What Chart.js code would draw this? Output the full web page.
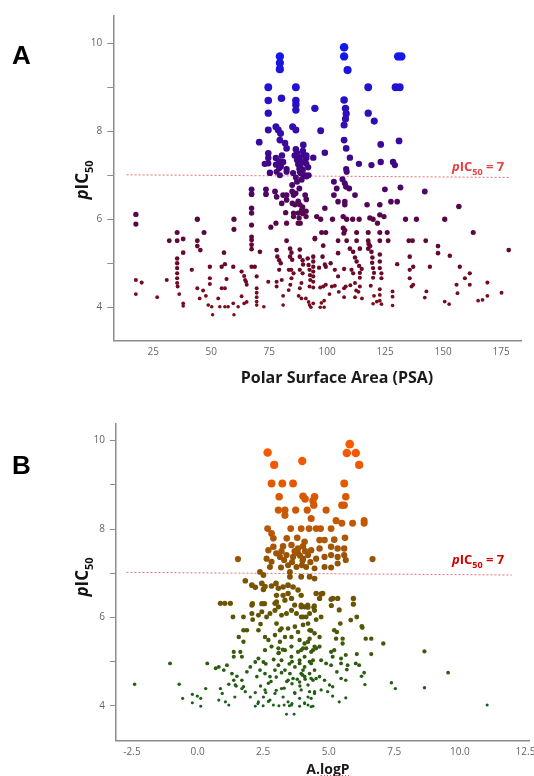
<!DOCTYPE html>
<html>
<head>
<meta charset="utf-8">
<title>pIC50 vs PSA / A.logP</title>
<script src="https://cdn.jsdelivr.net/npm/chart.js@4.4.1/dist/chart.umd.min.js"></script>
<style>
    html, body { margin: 0; padding: 0; background: #fff; }
    #wrap { position: relative; width: 534px; height: 776px; overflow: hidden; }
    #wrap canvas { position: absolute; left: 0; }
    #chartA { top: 0; }
    #chartB { top: 390px; }
</style>
</head>
<body>
<div id="wrap">
    <canvas id="chartA" width="534" height="390"></canvas>
    <canvas id="chartB" width="534" height="386"></canvas>
</div>
<script>
// ===== DATA =====
const yTicks = [4, 5, 6, 7, 8, 9, 10];
const yTickLabels = [4, 6, 8, 10];
const psaTicks = [25, 50, 75, 100, 125, 150, 175];
const logpTicks = [-2.5, 0, 2.5, 5, 7.5, 10, 12.5];

// dotted pIC50 = 7 reference lines [x, y]
const thresholdA = [[13.5, 7.01], [179, 6.95]];
const thresholdB = [[-2.71, 7.02], [11.98, 6.96]];

// panel A : [PSA, pIC50]
const pointsA = [
    [17.5, 6.11], [17.5, 5.89], [17.5, 4.62], [20.0, 4.56], [17.5, 4.30], [26.7, 4.23], [30.8, 4.62],
    [31.9, 5.51], [35.3, 5.70], [35.3, 5.51], [37.9, 5.55], [35.3, 5.11], [35.3, 5.00], [35.3, 4.89],
    [35.3, 4.77], [35.3, 4.66], [35.3, 4.55], [35.5, 4.47], [36.2, 4.30], [37.9, 5.24], [37.9, 4.09],
    [37.9, 4.03], [41.6, 4.85], [44.0, 6.00], [44.0, 5.51], [44.0, 5.39], [45.3, 5.30], [46.9, 5.70],
    [44.0, 4.43], [46.5, 4.38], [45.0, 4.20], [47.7, 4.26], [48.7, 4.05], [50.2, 4.01], [49.4, 4.92],
    [49.4, 4.66], [49.4, 4.53], [50.6, 3.83], [53.0, 4.20], [53.7, 4.01], [55.9, 4.01], [54.5, 4.92],
    [55.9, 4.98], [55.5, 5.24], [54.5, 4.43], [55.9, 4.43], [56.6, 4.64], [57.3, 4.01], [59.5, 4.92],
    [59.8, 3.83], [59.8, 6.00], [59.8, 5.77], [59.5, 4.09], [61.6, 4.01], [63.1, 4.81], [64.2, 4.71],
    [64.6, 4.62], [65.3, 4.51], [65.0, 4.58], [63.1, 4.25], [64.2, 4.09], [65.3, 4.12], [67.4, 6.68],
    [67.4, 6.57], [67.4, 6.25], [67.4, 6.14], [67.4, 5.87], [67.4, 5.60], [67.4, 5.53], [67.4, 5.42],
    [67.4, 5.32], [67.4, 4.92], [68.8, 4.92], [69.6, 4.70], [69.6, 4.43], [69.6, 4.33], [69.6, 4.23],
    [69.6, 4.13], [69.6, 4.05], [71.0, 5.26], [72.7, 4.01], [73.6, 6.68], [73.6, 6.57], [74.6, 4.58],
    [75.7, 5.82], [77.5, 6.63], [78.2, 6.51], [77.9, 5.91], [78.2, 5.30], [78.5, 5.15], [79.3, 5.07],
    [80.0, 5.00], [79.3, 4.85], [78.2, 4.58], [78.2, 4.47], [80.4, 4.62], [81.0, 4.26], [81.0, 4.05],
    [80.4, 6.36], [81.0, 6.55], [82.5, 6.55], [82.5, 6.44], [82.1, 6.15], [82.5, 5.91], [82.5, 5.51],
    [84.0, 5.33], [84.6, 5.24], [84.0, 5.15], [84.9, 5.08], [83.5, 4.85], [84.5, 4.85], [85.5, 4.77],
    [84.6, 4.66], [84.1, 4.51], [83.4, 4.39], [85.5, 6.14], [87.5, 6.14], [85.5, 6.06], [87.9, 6.03],
    [87.5, 5.91], [88.4, 5.91], [86.4, 6.59], [87.5, 6.41], [88.2, 6.33], [89.4, 6.28], [89.0, 6.21],
    [90.9, 6.18], [89.4, 6.13], [90.9, 6.06], [88.2, 5.31], [88.2, 5.15], [89.4, 5.07], [89.6, 4.97],
    [88.2, 4.85], [89.4, 4.77], [88.9, 4.55], [88.2, 4.43], [87.7, 4.26], [88.9, 4.20], [90.8, 4.20],
    [92.0, 4.12], [92.4, 4.05], [93.0, 4.00], [91.6, 5.11], [92.0, 4.96], [92.4, 4.85], [92.6, 4.73],
    [92.7, 4.62], [92.4, 4.47], [94.7, 5.57], [95.5, 6.06], [75.3, 7.06], [78.2, 7.08], [79.6, 7.00],
    [82.5, 7.08], [85.3, 7.05], [88.2, 7.08], [89.7, 7.00], [91.1, 6.97], [84.9, 6.78], [84.9, 6.63],
    [85.5, 6.55], [85.0, 6.36], [86.1, 6.33],
    [79.6, 9.70], [79.6, 9.55], [79.6, 9.41], [107.3, 9.91], [107.3, 9.70], [108.8, 9.39], [130.6, 9.70],
    [132.0, 9.70], [74.6, 9.00], [86.5, 9.00], [117.7, 9.00], [129.5, 9.00], [131.3, 9.00], [74.6, 8.70],
    [80.3, 8.75], [86.5, 8.70], [86.5, 8.60], [86.5, 8.48], [94.7, 8.52], [107.3, 8.71], [107.9, 8.52],
    [108.2, 8.40], [107.9, 8.28], [107.3, 8.14], [117.7, 8.41], [120.3, 8.23], [74.6, 8.41], [74.6, 8.03],
    [77.9, 8.10], [78.9, 8.03], [79.9, 7.95], [85.1, 8.10], [86.5, 8.03], [97.2, 8.01], [70.7, 7.75],
    [79.6, 7.80], [81.8, 7.73], [82.5, 7.61], [74.6, 7.50], [74.6, 7.39], [74.6, 7.27], [73.1, 7.26],
    [77.9, 7.39], [79.3, 7.32], [77.9, 7.24], [79.3, 7.16], [86.5, 7.59], [87.0, 7.50], [88.0, 7.39],
    [88.0, 7.27], [88.5, 7.18], [89.5, 7.12], [90.5, 7.00], [89.7, 7.69], [89.7, 7.45], [91.0, 7.39],
    [91.0, 7.26], [91.8, 7.18], [94.0, 7.40], [99.0, 7.51], [107.3, 7.80], [108.2, 7.61], [109.8, 7.40],
    [108.2, 7.14], [113.7, 7.26], [119.1, 7.23], [123.1, 7.30], [123.1, 7.70], [128.4, 7.30], [129.2, 7.23],
    [131.0, 7.78], [75.3, 7.05], [82.5, 7.14], [92.0, 7.00],
    [86.0, 7.45], [87.0, 7.35], [87.5, 7.25], [88.0, 7.15], [88.5, 7.05], [86.5, 6.95], [87.0, 6.85],
    [89.0, 6.90], [90.0, 7.30], [91.0, 7.45], [89.5, 7.55], [88.0, 6.70], [90.5, 6.55], [91.0, 6.45],
    [80.5, 7.45], [81.0, 7.30], [80.0, 7.20],
    [108.4, 7.08], [102.9, 6.85], [104.1, 6.70], [106.6, 6.91], [107.6, 6.82], [108.1, 6.74], [109.5, 6.70],
    [112.0, 6.55], [102.9, 6.55], [104.7, 6.40], [107.6, 6.40], [107.6, 6.33], [124.9, 6.68], [131.6, 6.72],
    [142.1, 6.63], [99.0, 6.25], [117.2, 6.33], [122.7, 6.33], [127.5, 6.40], [130.2, 6.40], [156.8, 6.29],
    [97.2, 6.00], [102.3, 6.00], [106.9, 6.06], [108.4, 6.00], [111.0, 6.00], [113.8, 6.00], [118.4, 6.03],
    [119.8, 6.00], [121.7, 5.91], [122.7, 6.10], [124.5, 6.06], [133.8, 6.00], [138.5, 6.00], [150.7, 6.00],
    [163.0, 5.70], [97.6, 5.70], [99.4, 5.70], [106.9, 5.80], [107.2, 5.68], [107.6, 5.75], [112.7, 5.70],
    [117.7, 5.70], [122.7, 5.70], [125.9, 5.70], [94.7, 5.55], [98.3, 5.40], [104.7, 5.51], [108.4, 5.51],
    [112.7, 5.51], [117.7, 5.51], [122.7, 5.51], [126.3, 5.51], [117.9, 5.44], [118.5, 5.39], [135.2, 5.51],
    [136.8, 5.51], [142.5, 5.51], [147.8, 5.39], [147.8, 5.23], [152.9, 5.17], [178.3, 5.30], [94.0, 5.15],
    [94.0, 5.04], [94.0, 4.92], [94.0, 4.81], [94.0, 4.70], [94.0, 4.58], [94.0, 4.45], [94.0, 4.09],
    [98.0, 5.15], [99.0, 4.97], [99.4, 4.92], [98.3, 4.47], [99.4, 4.51], [98.7, 4.15], [98.7, 4.00],
    [103.3, 4.85], [104.7, 4.70], [103.3, 4.49], [104.7, 5.23], [107.3, 4.87], [107.3, 4.43], [107.3, 4.23],
    [109.8, 5.33], [111.2, 5.26], [112.0, 5.13], [112.7, 5.04], [113.8, 4.94], [114.9, 4.87], [110.5, 4.85],
    [111.2, 4.77], [112.0, 4.55], [112.5, 4.38], [112.0, 4.23], [114.1, 5.33], [114.1, 4.78], [114.1, 4.67],
    [114.1, 4.47], [117.7, 5.33], [119.1, 5.26], [119.5, 5.13], [119.4, 5.01], [119.8, 4.89], [120.2, 4.78],
    [119.8, 4.67], [118.8, 4.49], [120.2, 4.26], [119.8, 4.08], [122.7, 5.20], [122.7, 5.04], [122.7, 4.89],
    [123.4, 4.77], [123.4, 4.66], [122.7, 4.41], [122.7, 4.28], [122.7, 4.15], [121.4, 4.13], [123.4, 4.07],
    [128.2, 4.36], [128.2, 4.24], [128.2, 4.04], [130.2, 4.98], [135.6, 5.15], [137.1, 4.92], [135.6, 4.85],
    [135.6, 4.66], [137.1, 4.51], [136.4, 4.47], [142.8, 4.36], [142.1, 4.22], [144.3, 4.92], [150.7, 4.13],
    [152.6, 4.07], [157.2, 4.92], [155.8, 4.51], [156.2, 4.32], [159.4, 4.66], [161.5, 4.77], [161.5, 4.51],
    [165.1, 4.15], [167.0, 4.17], [169.1, 4.56], [169.1, 4.26], [175.2, 4.33],
    [97.0, 4.00], [97.5, 4.10], [97.0, 4.45], [101.0, 4.30], [102.0, 4.47], [105.0, 4.35], [108.0, 4.47],
    [110.0, 4.50], [115.0, 4.20], [113.5, 4.35], [96.5, 4.90], [101.5, 5.00]
];

// panel B : [A.logP, pIC50]
const pointsB = [
    [2.67, 9.73], [2.92, 9.45], [3.99, 9.54], [5.80, 9.92], [5.69, 9.72], [6.03, 9.72], [6.16, 9.45],
    [2.82, 9.03], [3.23, 9.03], [3.64, 9.03], [5.59, 9.03], [3.11, 8.73], [4.02, 8.74], [4.46, 8.73],
    [4.10, 8.68], [4.40, 8.64], [5.65, 8.73], [5.59, 8.54], [5.50, 8.54], [3.08, 8.43], [3.33, 8.43],
    [3.33, 8.31], [3.74, 8.43], [4.18, 8.43], [4.43, 8.54], [4.90, 8.43], [4.33, 8.24], [5.28, 8.19],
    [5.50, 8.13], [5.91, 8.13], [6.35, 8.19], [6.35, 8.13], [2.67, 8.01], [2.82, 7.90], [2.89, 7.79],
    [3.55, 8.01], [3.95, 8.01], [4.25, 8.01], [4.52, 8.01], [4.69, 8.01], [5.09, 8.01], [5.62, 7.80],
    [3.40, 7.79], [3.80, 7.80], [4.08, 7.71], [4.65, 7.75], [4.84, 7.75], [5.21, 7.76], [1.54, 7.32],
    [6.67, 7.32], [2.70, 7.52], [2.89, 7.60], [3.26, 7.61], [3.58, 7.64], [3.83, 7.56], [4.02, 7.61],
    [4.33, 7.52], [4.65, 7.56], [5.09, 7.60], [5.34, 7.56], [5.59, 7.56], [2.63, 7.33], [2.82, 7.26],
    [3.14, 7.37], [3.39, 7.41], [3.64, 7.37], [3.83, 7.45], [4.02, 7.33], [4.21, 7.41], [4.52, 7.33],
    [4.84, 7.37], [5.09, 7.41], [5.34, 7.37], [5.59, 7.41], [5.65, 7.30], [2.76, 7.14], [3.18, 7.13],
    [3.45, 7.18], [3.77, 7.14], [3.98, 7.18], [4.14, 7.14], [4.46, 7.11], [4.84, 7.14], [5.09, 7.13],
    [5.34, 7.22], [2.38, 7.03], [2.51, 6.96], [3.52, 6.92], [3.95, 6.92], [4.27, 6.92], [4.46, 6.88],
    [3.52, 7.03], [3.70, 7.50], [3.90, 7.40], [4.10, 7.50], [3.60, 7.25], [4.00, 7.28], [3.30, 7.30],
    [4.30, 7.25], [3.00, 7.45], [3.20, 7.50],
    [1.82, 6.83], [2.07, 6.73], [2.20, 6.68], [2.45, 6.77], [2.51, 6.63], [2.82, 6.71], [2.99, 6.77],
    [3.08, 6.66], [3.26, 6.69], [3.45, 6.73], [3.64, 6.69], [3.83, 6.62], [3.45, 6.54], [3.26, 6.50],
    [3.01, 6.50], [3.01, 6.35], [3.33, 6.39], [3.58, 6.43], [4.52, 6.54], [4.71, 6.53], [5.15, 6.43],
    [5.34, 6.43], [5.94, 6.43], [5.94, 6.30], [0.87, 6.32], [1.04, 6.32], [1.25, 6.32], [2.09, 6.31],
    [2.45, 6.31], [2.55, 6.31], [3.70, 6.28], [3.95, 6.28], [4.20, 6.28], [4.45, 6.26], [5.10, 6.27],
    [2.57, 6.70], [1.35, 6.01], [1.75, 6.01], [2.07, 6.28], [2.07, 6.09], [2.32, 6.05], [2.45, 6.13],
    [2.63, 6.01], [2.76, 6.09], [2.95, 6.16], [2.95, 6.32], [3.08, 6.24], [3.20, 6.05], [3.39, 6.09],
    [3.58, 6.16], [3.77, 6.09], [3.95, 6.01], [4.08, 6.24], [4.27, 6.09], [4.46, 6.16], [1.75, 5.71],
    [1.88, 5.71], [2.32, 5.71], [1.57, 5.56], [1.75, 5.45], [2.57, 5.56], [2.70, 5.49], [2.95, 5.60],
    [3.14, 5.71], [3.14, 5.45], [2.57, 5.26], [2.82, 5.34], [3.08, 5.30], [1.38, 5.22], [1.63, 5.22],
    [1.69, 5.11], [1.38, 5.11], [2.10, 5.95], [2.40, 5.85],
    [-1.05, 4.96], [0.37, 4.96], [0.69, 4.85], [0.81, 4.88], [1.00, 4.81], [1.12, 4.92],
    [1.31, 4.73], [1.50, 4.67], [1.38, 4.58], [1.44, 4.47], [1.19, 4.49], [1.69, 4.58], [1.75, 4.43],
    [1.88, 4.77], [2.01, 4.88], [2.20, 4.99], [2.32, 5.07], [2.51, 4.99], [2.38, 4.81], [2.26, 4.66],
    [2.57, 4.73], [2.76, 4.66], [2.70, 4.51], [2.95, 4.81], [3.08, 4.92], [3.20, 5.03], [3.33, 4.81],
    [3.52, 4.73], [3.45, 4.58], [3.64, 4.62], [3.71, 4.88], [3.89, 5.03], [4.02, 4.81], [4.08, 4.66],
    [4.27, 4.73], [4.33, 4.96], [4.46, 4.81], [4.40, 4.58],
    [-2.40, 4.49], [-0.70, 4.49], [-0.57, 4.17], [-0.20, 4.26], [-0.01, 4.22], [0.12, 4.17], [-0.20, 4.07],
    [0.12, 3.99], [0.31, 4.39], [0.87, 4.39], [0.81, 4.13], [1.06, 4.09], [1.19, 4.02], [0.94, 4.28],
    [1.42, 4.20], [1.47, 4.45], [1.69, 4.39], [1.82, 4.32], [2.01, 4.20], [2.20, 3.99], [2.32, 4.09],
    [2.51, 4.20], [2.57, 4.36], [2.76, 4.13], [2.89, 4.02], [2.95, 4.28], [3.20, 4.39], [3.26, 4.20],
    [3.45, 4.09], [3.58, 4.02], [3.71, 4.28], [3.89, 4.17], [4.08, 4.05], [4.21, 4.20], [4.33, 3.98],
    [4.46, 4.32], [3.39, 3.81], [3.68, 3.81],
    [5.09, 6.41], [5.40, 6.17], [4.77, 6.54], [4.65, 6.43], [3.95, 6.50], [3.95, 6.24], [4.21, 6.23],
    [4.43, 6.23], [4.02, 6.01], [4.14, 6.01], [4.52, 5.95], [4.71, 6.01], [5.44, 5.86], [5.84, 5.94],
    [6.07, 6.01], [6.26, 5.80], [6.28, 5.77], [4.21, 5.86], [4.33, 5.70], [4.27, 5.52], [4.65, 5.56],
    [5.21, 5.71], [5.31, 5.67], [5.28, 5.52], [5.53, 5.52], [5.53, 5.41], [6.41, 5.52], [6.62, 5.52],
    [7.08, 5.41], [8.65, 5.23], [9.55, 4.75], [7.39, 4.52], [7.54, 4.39], [8.65, 4.41], [11.04, 4.02],
    [4.08, 5.41], [3.95, 5.26], [4.14, 5.30], [4.40, 5.26], [4.52, 5.30], [4.65, 5.34], [5.09, 5.22],
    [5.21, 5.26], [5.15, 5.11], [5.65, 5.15], [6.07, 5.17], [6.62, 5.17], [5.47, 5.07], [5.47, 4.96],
    [5.72, 4.92], [6.03, 4.96], [6.16, 4.92], [3.89, 4.96], [4.08, 4.88], [4.27, 5.00], [4.40, 5.03],
    [4.71, 5.03], [4.90, 4.96], [5.09, 4.92], [5.69, 4.82], [6.35, 4.75], [6.25, 4.67], [5.31, 4.77],
    [5.47, 4.62], [5.65, 4.58], [4.84, 4.58], [4.65, 4.66], [4.52, 4.62], [4.33, 4.62], [4.08, 4.66],
    [3.95, 4.73], [3.89, 4.54], [6.38, 4.48], [3.95, 4.36], [4.27, 4.32], [4.46, 4.28], [4.71, 4.36],
    [4.96, 4.32], [5.15, 4.43], [5.03, 4.47], [4.21, 4.47], [5.65, 4.18], [5.40, 4.09], [5.15, 4.22],
    [4.33, 4.17], [4.08, 4.07], [4.21, 4.02], [4.40, 3.99], [3.89, 3.99],
    [3.08, 5.19], [3.33, 5.26], [3.58, 5.34], [3.58, 5.11], [3.83, 5.22], [4.02, 5.30], [4.08, 5.11],
    [4.33, 5.22], [4.46, 5.34], [4.21, 5.45], [3.89, 5.49], [3.58, 5.56], [3.33, 5.56], [3.45, 5.75],
    [3.71, 5.79], [4.02, 5.83], [4.27, 5.71], [4.46, 5.64], [3.83, 5.67], [3.01, 5.86], [3.20, 5.75],
    [2.60, 4.95], [2.90, 5.05], [3.10, 5.20], [3.25, 5.27], [3.50, 4.95], [3.60, 5.00], [3.20, 4.75],
    [3.00, 4.65], [2.80, 4.55], [3.40, 4.55], [3.60, 4.50], [3.80, 4.60], [3.90, 4.45], [4.00, 4.70],
    [4.10, 4.60], [2.40, 4.45], [2.20, 4.30], [2.60, 4.30], [3.00, 4.35], [3.30, 4.40], [3.70, 4.30],
    [2.70, 4.10], [3.10, 4.00], [3.30, 4.02], [3.50, 4.00], [3.60, 4.05], [2.50, 4.00], [2.30, 4.05]
];

(function () {
    'use strict';

    // colour ramps along pIC50 (style, not data)
    const rampA = [[4, [125, 12, 25]], [5, [105, 8, 42]], [6, [88, 6, 74]], [7, [70, 5, 120]],
                   [8, [52, 12, 170]], [9, [35, 18, 210]], [10, [15, 25, 240]]];
    const rampB = [[4, [25, 95, 25]], [5, [45, 92, 15]], [6, [95, 85, 5]], [7, [135, 82, 0]],
                   [8, [188, 88, 5]], [9, [228, 88, 0]], [10, [255, 90, 0]]];

    function rampColor(ramp, v) {
        if (v <= ramp[0][0]) return 'rgb(' + ramp[0][1].join(',') + ')';
        for (let i = 1; i < ramp.length; i++) {
            if (v <= ramp[i][0]) {
                const a = ramp[i - 1], b = ramp[i];
                const t = (v - a[0]) / (b[0] - a[0]);
                const c = a[1].map(function (ch, k) { return Math.round(ch + (b[1][k] - ch) * t); });
                return 'rgb(' + c.join(',') + ')';
            }
        }
        return 'rgb(' + ramp[ramp.length - 1][1].join(',') + ')';
    }

    function toXY(pairs) {
        return pairs.map(function (p) { return { x: p[0], y: p[1] }; });
    }

    /**
     * Draw a run of text pieces (for italic p / subscript 50)
     */
    function drawRich(ctx, parts, x, y, align) {
        let total = 0;
        const widths = parts.map(function (p) {
            ctx.font = p.font;
            const w = ctx.measureText(p.text).width;
            total += w;
            return w;
        });
        let cx = align === 'center' ? x - total / 2 : x;
        ctx.textAlign = 'left';
        parts.forEach(function (p, i) {
            ctx.font = p.font;
            ctx.fillText(p.text, cx, y + (p.dy || 0));
            cx += widths[i];
        });
        return total;
    }

    function picParts(size, subSize, tail) {
        const fam = '"Open Sans", "DejaVu Sans", sans-serif';
        const parts = [
            { text: 'p', font: 'italic bold ' + size + 'px ' + fam },
            { text: 'IC', font: 'bold ' + size + 'px ' + fam },
            { text: '50', font: 'bold ' + subSize + 'px ' + fam, dy: Math.round(size * 0.28) }
        ];
        if (tail) parts.push({ text: tail, font: 'bold ' + size + 'px ' + fam });
        return parts;
    }

    // ===== TEXT PLUGIN (panel letter, axis titles, threshold label) =====
    const panelTextPlugin = {
        id: 'panelText',
        afterDraw: function (chart, args, o) {
            const ctx = chart.ctx;
            ctx.save();
            ctx.textBaseline = 'alphabetic';

            // panel letter
            ctx.fillStyle = '#000';
            ctx.textAlign = 'left';
            ctx.font = 'bold 26px "Liberation Sans", Arial, sans-serif';
            ctx.fillText(o.letter, o.letterX, o.letterY);

            // x title
            ctx.fillStyle = '#1a1a1a';
            ctx.font = 'bold ' + o.xTitleSize + 'px "Open Sans", "DejaVu Sans", sans-serif';
            ctx.textAlign = 'center';
            ctx.fillText(o.xTitle, o.xTitleX, o.xTitleY);

            if (o.squiggle) {
                const full = ctx.measureText(o.xTitle).width;
                const pre = ctx.measureText(o.squiggle).width;
                let sx = o.xTitleX - full / 2 + pre;
                const ex = o.xTitleX + full / 2;
                const sy = o.xTitleY + 2.5;
                ctx.strokeStyle = '#e02020';
                ctx.lineWidth = 1;
                ctx.beginPath();
                ctx.moveTo(sx, sy);
                let up = true;
                while (sx < ex) {
                    sx += 1.5;
                    ctx.lineTo(sx, sy + (up ? -1 : 1));
                    up = !up;
                }
                ctx.stroke();
            }

            // y title (rotated)
            ctx.save();
            ctx.fillStyle = '#111';
            ctx.translate(o.yTitleX, o.yTitleY);
            ctx.rotate(-Math.PI / 2);
            drawRich(ctx, picParts(17, 11), 0, 0, 'center');
            ctx.restore();

            // threshold label
            ctx.fillStyle = o.labelColor;
            drawRich(ctx, picParts(13, 9, ' = 7'), o.labelX, o.labelY, 'left');

            ctx.restore();
        }
    };

    /**
     * Build one scatter panel
     */
    function makePanel(canvasId, cfg) {
        const canvas = document.getElementById(canvasId);
        const H = canvas.height;

        return new Chart(canvas.getContext('2d'), {
            type: 'scatter',
            data: {
                datasets: [{
                    data: toXY(cfg.points),
                    pointBackgroundColor: function (c) {
                        return c.raw ? rampColor(cfg.ramp, c.raw.y) : '#000';
                    },
                    pointRadius: function (c) {
                        return c.raw ? cfg.r0 + (c.raw.y - 4) * cfg.rk : 2;
                    },
                    pointBorderWidth: 0,
                    pointHoverRadius: 0,
                    order: 1
                }, {
                    type: 'line',
                    data: toXY(cfg.threshold),
                    borderColor: cfg.lineColor,
                    borderWidth: 1,
                    borderDash: [2, 2],
                    pointRadius: 0,
                    fill: false,
                    order: 2
                }]
            },
            options: {
                responsive: false,
                animation: false,
                devicePixelRatio: 1,
                events: [],
                layout: {
                    padding: { left: 0, top: cfg.area.top, right: canvas.width - cfg.area.right, bottom: 0 }
                },
                plugins: {
                    legend: { display: false },
                    tooltip: { enabled: false },
                    panelText: cfg.text
                },
                scales: {
                    x: {
                        type: 'linear',
                        min: cfg.xMin,
                        max: cfg.xMax,
                        afterBuildTicks: function (s) {
                            s.ticks = cfg.xTicks.map(function (v) { return { value: v }; });
                        },
                        afterFit: function (s) {
                            s.height = H - cfg.area.bottom;
                            s.paddingLeft = 0; s.paddingRight = 0;
                        },
                        grid: { display: true, drawOnChartArea: false, drawTicks: false },
                        border: { display: true, color: '#8c8c8c', width: 1.5 },
                        ticks: {
                            autoSkip: false,
                            maxRotation: 0,
                            padding: cfg.xTickPad,
                            color: '#666',
                            font: { family: '"Open Sans", sans-serif', size: 10 },
                            callback: cfg.xFormat
                        }
                    },
                    y: {
                        type: 'linear',
                        min: cfg.yMin,
                        max: cfg.yMax,
                        afterBuildTicks: function (s) {
                            s.ticks = yTicks.map(function (v) { return { value: v }; });
                        },
                        afterFit: function (s) {
                            s.width = cfg.area.left;
                            s.paddingTop = 0; s.paddingBottom = 0;
                        },
                        grid: { display: true, drawOnChartArea: false, drawTicks: true, tickLength: 6, color: '#8c8c8c', lineWidth: 1 },
                        border: { display: true, color: '#8c8c8c', width: 1.5 },
                        ticks: {
                            autoSkip: false,
                            padding: 5,
                            color: '#666',
                            font: { family: '"Open Sans", sans-serif', size: 10 },
                            callback: function (v) {
                                return yTickLabels.indexOf(v) >= 0 ? String(v) : '';
                            }
                        }
                    }
                }
            },
            plugins: [panelTextPlugin]
        });
    }

    document.addEventListener('DOMContentLoaded', function () {
        makePanel('chartA', {
            points: pointsA,
            threshold: thresholdA,
            ramp: rampA,
            r0: 1.8, rk: 0.42,
            lineColor: 'rgba(222, 90, 90, 0.85)',
            area: { left: 113.3, top: 15.5, right: 521.7, bottom: 340.7 },
            xMin: 7.76, xMax: 183.9, yMin: 3.24, yMax: 10.63,
            xTicks: psaTicks,
            xTickPad: 5,
            xFormat: function (v) { return String(v); },
            text: {
                letter: 'A', letterX: 12, letterY: 64,
                xTitle: 'Polar Surface Area (PSA)', xTitleSize: 16, xTitleX: 337, xTitleY: 383,
                yTitleX: 88, yTitleY: 180,
                labelX: 452, labelY: 171, labelColor: '#e4403f'
            }
        });

        makePanel('chartB', {
            points: pointsB,
            threshold: thresholdB,
            ramp: rampB,
            r0: 1.5, rk: 0.48,
            lineColor: 'rgba(222, 90, 90, 0.85)',
            area: { left: 116, top: 33.4, right: 534, bottom: 350.3 },
            xMin: -3.11, xMax: 12.66, yMin: 3.22, yMax: 10.39,
            xTicks: logpTicks,
            xTickPad: 6,
            xFormat: function (v) { return v.toFixed(1); },
            text: {
                letter: 'B', letterX: 12, letterY: 84,
                xTitle: 'A.logP', xTitleSize: 14, xTitleX: 328, xTitleY: 384, squiggle: 'A.',
                yTitleX: 88, yTitleY: 187,
                labelX: 452, labelY: 174, labelColor: '#d40000'
            }
        });
    });
})();
</script>
</body>
</html>
